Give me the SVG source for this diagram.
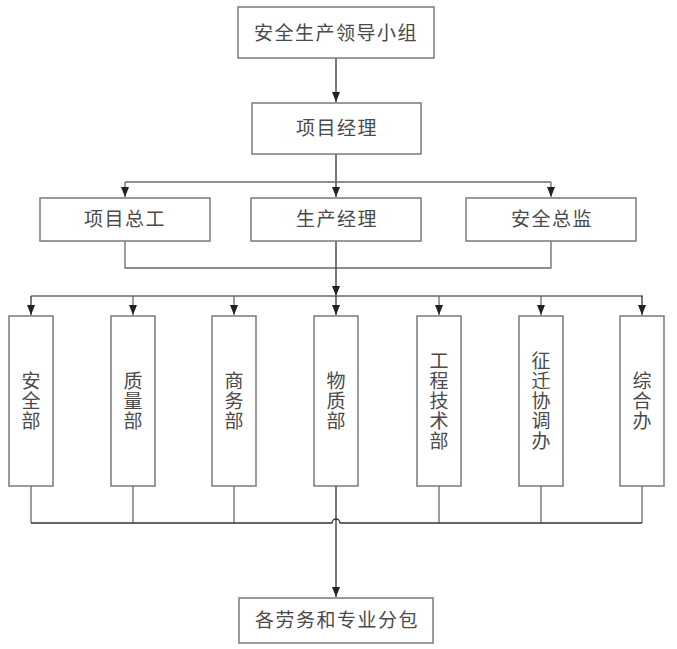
<svg xmlns="http://www.w3.org/2000/svg" width="677" height="649" viewBox="0 0 677 649">
<style>
.box{fill:#fff;stroke:#7a7a7a;stroke-width:1.5}
.t{font-family:"Noto Sans CJK SC","Noto Sans",sans-serif;font-size:19px;fill:#4a4a4a;text-anchor:middle;letter-spacing:1.5px}
.v{font-family:"Noto Sans CJK SC","Noto Sans",sans-serif;font-size:19px;fill:#4a4a4a;text-anchor:middle;writing-mode:vertical-rl;letter-spacing:1px}
.c{fill:none;stroke:#333;stroke-width:1.3}
.g{fill:none;stroke:#6a6a6a;stroke-width:1.3}
</style>
<defs>
<marker id="ah" viewBox="0 0 10 8" refX="10" refY="4" markerWidth="10" markerHeight="8" markerUnits="userSpaceOnUse" orient="auto">
<path d="M0,0 L10,4 L0,8 z" fill="#222"/>
</marker>
</defs>
<rect width="677" height="649" fill="#fff"/>
<g id="connectors">
<path class="c" d="M336,58 V102" marker-end="url(#ah)"/>
<path class="c" d="M336,154 V197" marker-end="url(#ah)"/>
<path class="g" d="M125,182 H551"/>
<path class="g" d="M125,182 V197" marker-end="url(#ah)"/>
<path class="g" d="M551,182 V197" marker-end="url(#ah)"/>
<path class="g" d="M125,241 V268 H551 V241"/>
<path class="c" d="M336,241 V296" marker-end="url(#ah)"/>
<path class="g" d="M31,296 H643"/>
<path class="c" d="M31,296 V315" marker-end="url(#ah)"/>
<path class="g" d="M133,296 V315" marker-end="url(#ah)"/>
<path class="g" d="M234,296 V315" marker-end="url(#ah)"/>
<path class="c" d="M336,296 V315" marker-end="url(#ah)"/>
<path class="g" d="M439,296 V315" marker-end="url(#ah)"/>
<path class="g" d="M541,296 V315" marker-end="url(#ah)"/>
<path class="c" d="M642,296 V315" marker-end="url(#ah)"/>
<path class="g" d="M31,486 V523"/>
<path class="g" d="M133,486 V523"/>
<path class="g" d="M234,486 V523"/>
<path class="g" d="M439,486 V523"/>
<path class="g" d="M541,486 V523"/>
<path class="g" d="M642,486 V523"/>
<path class="c" d="M31,523 H332 A4,4 0 0 1 340,523 H642"/>
<path class="c" d="M336,486 V597" marker-end="url(#ah)"/>
</g>
<g id="n1"><rect class="box" x="238" y="7" width="196" height="51"/><text class="t" x="336" y="40">安全生产领导小组</text></g>
<g id="n2"><rect class="box" x="252" y="103" width="169" height="51"/><text class="t" x="337" y="135">项目经理</text></g>
<g id="n3"><rect class="box" x="40" y="198" width="170" height="43"/><text class="t" x="125" y="226">项目总工</text></g>
<g id="n4"><rect class="box" x="251" y="198" width="170" height="43"/><text class="t" x="337" y="226">生产经理</text></g>
<g id="n5"><rect class="box" x="466" y="198" width="170" height="43"/><text class="t" x="552" y="226">安全总监</text></g>
<g id="d1"><rect class="box" x="9" y="316" width="44" height="170"/><text class="v" x="31" y="401">安全部</text></g>
<g id="d2"><rect class="box" x="111" y="316" width="44" height="170"/><text class="v" x="133" y="401">质量部</text></g>
<g id="d3"><rect class="box" x="212" y="316" width="44" height="170"/><text class="v" x="234" y="401">商务部</text></g>
<g id="d4"><rect class="box" x="314" y="316" width="44" height="170"/><text class="v" x="336" y="401">物质部</text></g>
<g id="d5"><rect class="box" x="417" y="316" width="44" height="170"/><text class="v" x="439" y="401">工程技术部</text></g>
<g id="d6"><rect class="box" x="519" y="316" width="44" height="170"/><text class="v" x="541" y="401">征迁协调办</text></g>
<g id="d7"><rect class="box" x="620" y="316" width="44" height="170"/><text class="v" x="642" y="401">综合办</text></g>
<g id="n6"><rect class="box" x="239" y="598" width="194" height="45"/><text class="t" x="337" y="627">各劳务和专业分包</text></g>
</svg>
